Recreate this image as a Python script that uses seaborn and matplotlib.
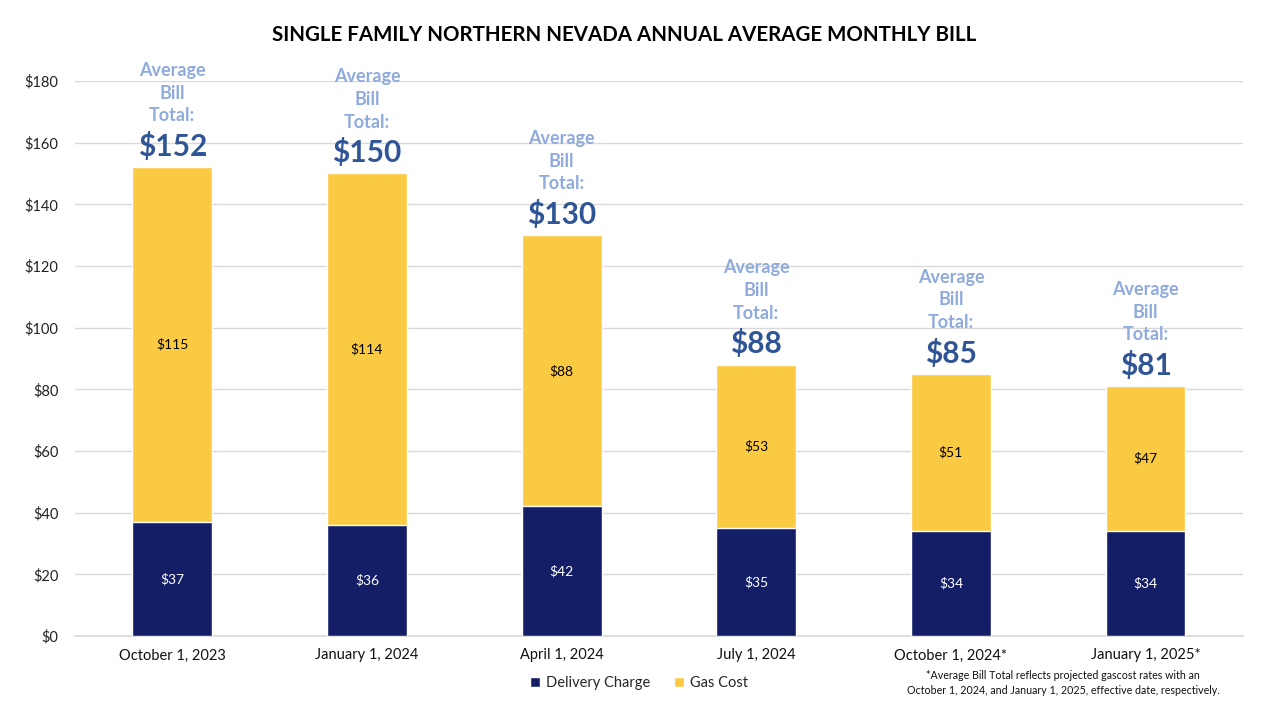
import matplotlib
matplotlib.use("Agg")
import matplotlib.pyplot as plt
import seaborn as sns
import pandas as pd
from matplotlib.patches import Patch

categories = ["October 1, 2023", "January 1, 2024", "April 1, 2024",
              "July 1, 2024", "October 1, 2024*", "January 1, 2025*"]
delivery = [37, 36, 42, 35, 34, 34]
gas_cost = [115, 114, 88, 53, 51, 47]
yticks = [0, 20, 40, 60, 80, 100, 120, 140, 160, 180]

NAVY = "#141E66"
YELLOW = "#FBCA43"
LIGHT = "#8FAADC"
DARK = "#2F5597"

sns.set_theme(style="white")
plt.rcParams["font.family"] = ["Lato", "DejaVu Sans"]

df = pd.DataFrame({"date": categories, "delivery": delivery, "gas": gas_cost})
df["total"] = df["delivery"] + df["gas"]

fig = plt.figure(figsize=(12.8, 7.2), dpi=100)
ax = fig.add_axes([0.0586, 0.1167, 0.9124, 0.7708])

sns.barplot(data=df, x="date", y="total", color=YELLOW, width=0.41,
            saturation=1, ax=ax, zorder=3)
sns.barplot(data=df, x="date", y="delivery", color=NAVY, width=0.41,
            saturation=1, ax=ax, zorder=3)

ax.set_ylim(0, 180)
ax.set_xlim(-0.5, len(categories) - 0.5)
ax.set_yticks(yticks)
ax.set_yticklabels([f"${v}" for v in yticks], fontsize=10.5, color="#222222")
ax.set_xticks(range(len(categories)))
ax.set_xticklabels(categories, fontsize=10.5, color="#111111")
ax.tick_params(axis="both", length=0, pad=12)
ax.tick_params(axis="x", pad=9)
ax.set_xlabel("")
ax.set_ylabel("")
ax.yaxis.grid(True, color="#D9D9D9", linewidth=1, zorder=0)
ax.set_axisbelow(True)
for s in ["top", "right", "left"]:
    ax.spines[s].set_visible(False)
ax.spines["bottom"].set_color("#D9D9D9")

for i, (d, g) in enumerate(zip(delivery, gas_cost)):
    ax.text(i, d / 2, f"${d}", ha="center", va="center", color="white",
            fontsize=10, zorder=5)
    ax.text(i, d + g / 2, f"${g}", ha="center", va="center", color="black",
            fontsize=10, zorder=5)
    tot = d + g
    ax.annotate(f"${tot}", (i, tot), xytext=(0, 15), textcoords="offset points",
                ha="center", va="center", fontsize=21.5, fontweight="bold",
                color=DARK, annotation_clip=False)
    for k, line in enumerate(["Total:", "Bill", "Average"]):
        ax.annotate(line, (i, tot), xytext=(0, 37 + 16.3 * k),
                    textcoords="offset points", ha="center", va="center",
                    fontsize=13, fontweight="bold", color=LIGHT,
                    annotation_clip=False)

fig.text(0.4875, 0.951, "SINGLE FAMILY NORTHERN NEVADA ANNUAL AVERAGE MONTHLY BILL",
         ha="center", va="center", fontsize=14.8, fontweight="bold",
         color="black")

handles = [Patch(facecolor=NAVY, label="Delivery Charge"),
           Patch(facecolor=YELLOW, label="Gas Cost")]
fig.legend(handles=handles, loc="center", bbox_to_anchor=(0.499, 0.0514),
           ncol=2, frameon=False, fontsize=10.5, handlelength=0.7,
           handleheight=0.7, handletextpad=0.4, columnspacing=1.6)

fig.text(0.8305, 0.0514,
         "*Average Bill Total reflects projected gascost rates with an\n"
         "October 1, 2024, and January 1, 2025, effective date, respectively.",
         ha="center", va="center", fontsize=7.7, color="#111111",
         linespacing=1.35)

fig.savefig("out.png", dpi=100)
